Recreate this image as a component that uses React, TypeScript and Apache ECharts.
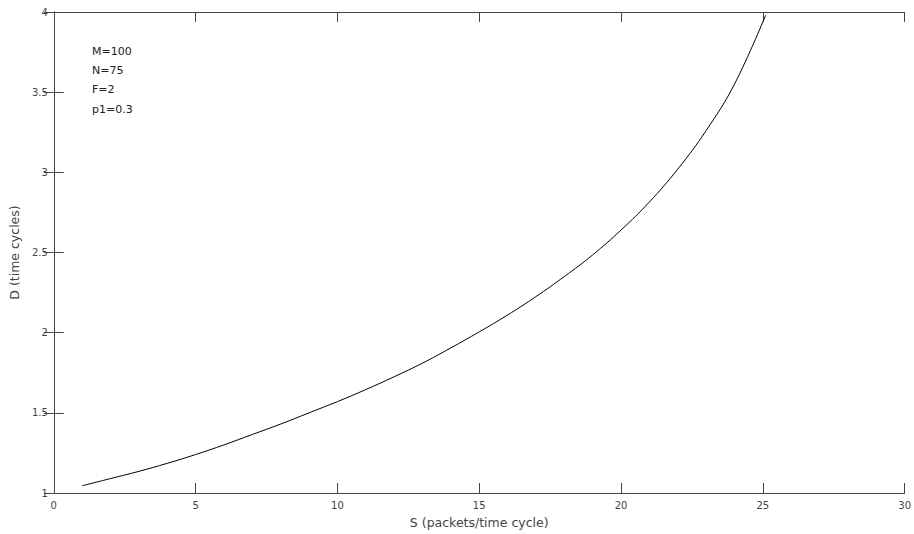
import React, { useEffect, useRef } from "react";
import * as echarts from "echarts";

const sValues = [1, 2, 3, 4, 5, 6, 7, 8, 9, 10, 11, 12, 13, 14, 15, 16, 17, 18, 19, 20, 21, 22, 23, 24, 25.1];
const dValues = [1.045, 1.09, 1.135, 1.185, 1.24, 1.3, 1.365, 1.43, 1.5, 1.57, 1.645, 1.725, 1.81, 1.905, 2.005, 2.11, 2.225, 2.35, 2.485, 2.64, 2.815, 3.02, 3.26, 3.55, 3.98];
const annotations = ["M=100", "N=75", "F=2", "p1=0.3"];

const FONT = "DejaVu Sans";
const AX = "#444";
const TXT = "#444";

export default function App() {
  const ref = useRef<HTMLDivElement>(null);
  useEffect(() => {
    if (!ref.current) return;
    document.body.style.margin = "0";
    const chart = echarts.init(ref.current, null, { renderer: "svg" });
    const data = sValues.map((s, i) => [s, dValues[i]]);
    const xCommon = {
      type: "value",
      min: 0,
      max: 30,
      interval: 5,
      splitLine: { show: false },
      axisLine: { show: true, lineStyle: { color: AX, width: 1 } },
      axisTick: { show: true, inside: true, length: 10, lineStyle: { color: AX } },
    };
    const yCommon = {
      type: "value",
      min: 1,
      max: 4,
      interval: 0.5,
      splitLine: { show: false },
      axisLine: { show: true, lineStyle: { color: AX, width: 1 } },
      axisTick: { show: true, inside: true, length: 10, lineStyle: { color: AX } },
    };
    chart.setOption({
      animation: false,
      backgroundColor: "#fff",
      grid: { left: 48, right: 7, top: 12, bottom: 41, containLabel: false },
      xAxis: [
        {
          ...xCommon,
          position: "bottom",
          name: "S (packets/time cycle)",
          nameLocation: "middle",
          nameGap: 23,
          nameTextStyle: { fontFamily: FONT, fontSize: 12.5, color: TXT },
          axisLabel: { fontFamily: FONT, fontSize: 10, color: TXT, margin: 7 },
        },
        { ...xCommon, position: "top", axisLabel: { show: false } },
      ],
      yAxis: [
        {
          ...yCommon,
          position: "left",
          name: "D (time cycles)",
          nameLocation: "middle",
          nameGap: 24,
          nameTextStyle: { fontFamily: FONT, fontSize: 12.5, color: TXT },
          axisLabel: { fontFamily: FONT, fontSize: 10, color: TXT, margin: 6 },
        },
        { ...yCommon, position: "right", axisLabel: { show: false } },
      ],
      graphic: annotations.map((t, i) => ({
        type: "text",
        left: 92,
        top: 46 + i * 19.2,
        style: { text: t, fontFamily: FONT, fontSize: 11, fill: "#222" },
      })),
      series: [
        {
          type: "line",
          data,
          smooth: 0.4,
          showSymbol: false,
          lineStyle: { color: "#000", width: 1 },
          xAxisIndex: 0,
          yAxisIndex: 0,
        },
      ],
    });
    return () => chart.dispose();
  }, []);
  return <div ref={ref} style={{ width: 914, height: 534 }} />;
}
